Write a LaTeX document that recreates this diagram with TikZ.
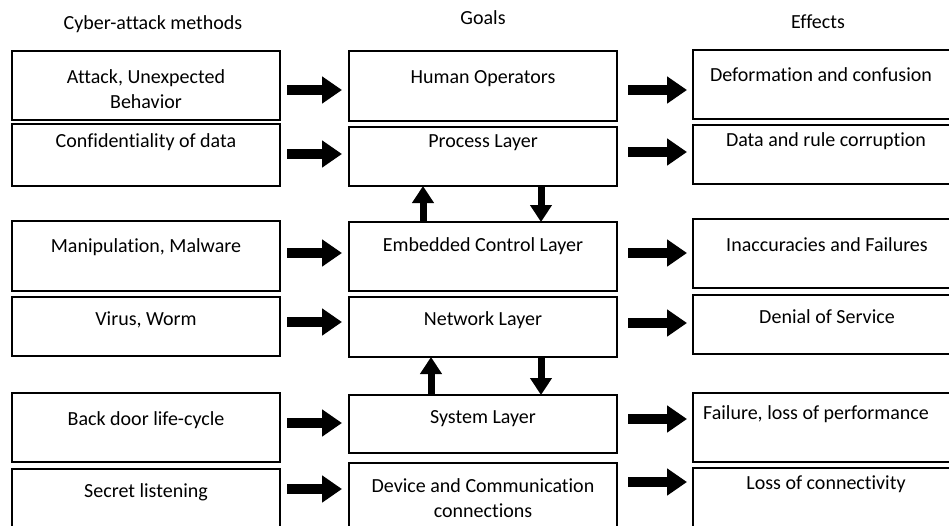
\documentclass[tikz,border=0pt]{standalone}
\usepackage{fontspec}
\setmainfont[Ligatures=NoCommon]{Carlito}
\usetikzlibrary{arrows.meta}
\begin{document}
\begin{tikzpicture}[x=1pt,y=-1pt,
  box/.style={draw, line width=2pt, minimum width=268pt, inner sep=0pt, outer sep=0pt},
  txt/.style={anchor=base, inner sep=0pt, align=center, font=\fontsize{20}{25}\selectfont},
  harrow/.style={line width=10pt, -{Triangle[length=20pt,width=26pt]}},
  varrow/.style={line width=7pt, -{Triangle[length=17pt,width=21pt]}}]
\useasboundingbox (0,0) rectangle (949,525);
\clip (0,0) rectangle (949,525);
% boxes
\node[box, minimum height=69pt] (L1) at (146,85.5) {};
\node[box, minimum height=62pt] (L2) at (146,155) {};
\node[box, minimum height=70pt] (L3) at (146,256) {};
\node[box, minimum height=59pt] (L4) at (146,326.5) {};
\node[box, minimum height=69pt] (L5) at (146,427.5) {};
\node[box, minimum height=69pt] (L6) at (146,503.5) {};
\node[box, minimum height=70pt] (M1) at (483,86) {};
\node[box, minimum height=59pt] (M2) at (483,156.5) {};
\node[box, minimum height=69pt] (M3) at (483,256.5) {};
\node[box, minimum height=60pt] (M4) at (483,327) {};
\node[box, minimum height=58pt] (M5) at (483,424) {};
\node[box, minimum height=69pt] (M6) at (483,497.5) {};
\node[box, minimum height=69pt] (R1) at (827,84.5) {};
\node[box, minimum height=59pt] (R2) at (827,154.5) {};
\node[box, minimum height=69pt] (R3) at (827,253.5) {};
\node[box, minimum height=59pt] (R4) at (827,324.5) {};
\node[box, minimum height=69pt] (R5) at (827,427.5) {};
\node[box, minimum height=69pt] (R6) at (827,502.5) {};
% headers
\node[txt] (hL) at (153,29) {Cyber-attack methods};
\node[txt] (hM) at (483,24) {Goals};
\node[txt] (hR) at (818,28) {Effects};
% texts
\node[txt] (tL1) at (146,108) {Attack, Unexpected\\Behavior};
\node[txt] (tL2) at (146,147) {Confidentiality of data};
\node[txt] (tL3) at (146,252) {Manipulation, Malware};
\node[txt] (tL4) at (146,325) {Virus, Worm};
\node[txt] (tL5) at (146,425) {Back door life-cycle};
\node[txt] (tL6) at (146,497) {Secret listening};
\node[txt] (tM1) at (483,83) {Human Operators};
\node[txt] (tM2) at (483,147) {Process Layer};
\node[txt] (tM3) at (483,251) {Embedded Control Layer};
\node[txt] (tM4) at (483,325) {Network Layer};
\node[txt] (tM5) at (483,423) {System Layer};
\node[txt] (tM6) at (483,517) {Device and Communication\\connections};
\node[txt] (tR1) at (821,81) {Deformation and confusion};
\node[txt] (tR2) at (826,146) {Data and rule corruption};
\node[txt] (tR3) at (827,251) {Inaccuracies and Failures};
\node[txt] (tR4) at (827,323) {Denial of Service};
\node[txt] (tR5) at (816,419) {Failure, loss of performance};
\node[txt] (tR6) at (826,489) {Loss of connectivity};
% left arrows
\draw[harrow, shorten <=7pt, shorten >=7pt] ([yshift=-4.5pt]L1.east) -- ([yshift=-4.5pt]L1.east -| M1.west);
\draw[harrow, shorten <=7pt, shorten >=7pt] ([yshift=1pt]L2.east) -- ([yshift=1pt]L2.east -| M2.west);
\draw[harrow, shorten <=7pt, shorten >=7pt] ([yshift=3pt]L3.east) -- ([yshift=3pt]L3.east -| M3.west);
\draw[harrow, shorten <=7pt, shorten >=7pt] ([yshift=4.5pt]L4.east) -- ([yshift=4.5pt]L4.east -| M4.west);
\draw[harrow, shorten <=7pt, shorten >=7pt] ([yshift=4.5pt]L5.east) -- ([yshift=4.5pt]L5.east -| M5.west);
\draw[harrow, shorten <=7pt, shorten >=7pt] ([yshift=14.5pt]L6.east) -- ([yshift=14.5pt]L6.east -| M6.west);
% right arrows
\draw[harrow, shorten <=11pt, shorten >=6pt] ([yshift=-4pt]M1.east) -- ([yshift=-4pt]M1.east -| R1.west);
\draw[harrow, shorten <=11pt, shorten >=6pt] ([yshift=4.5pt]M2.east) -- ([yshift=4.5pt]M2.east -| R2.west);
\draw[harrow, shorten <=11pt, shorten >=6pt] ([yshift=3.5pt]M3.east) -- ([yshift=3.5pt]M3.east -| R3.west);
\draw[harrow, shorten <=11pt, shorten >=6pt] ([yshift=4pt]M4.east) -- ([yshift=4pt]M4.east -| R4.west);
\draw[harrow, shorten <=11pt, shorten >=6pt] ([yshift=5pt]M5.east) -- ([yshift=5pt]M5.east -| R5.west);
\draw[harrow, shorten <=11pt, shorten >=6pt] ([yshift=15.5pt]M6.east) -- ([yshift=15.5pt]M6.east -| R6.west);
% vertical arrows
\draw[varrow] ([xshift=-60pt]M3.north) -- ([xshift=-60pt]M3.north |- M2.south);
\draw[varrow] ([xshift=58pt]M2.south) -- ([xshift=58pt]M2.south |- M3.north);
\draw[varrow] ([xshift=-52pt]M5.north) -- ([xshift=-52pt]M5.north |- M4.south);
\draw[varrow] ([xshift=58pt]M4.south) -- ([xshift=58pt]M4.south |- M5.north);
\end{tikzpicture}
\end{document}
